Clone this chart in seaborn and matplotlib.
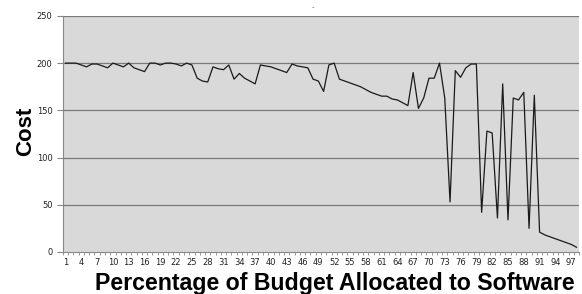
import matplotlib
matplotlib.use('Agg')
import matplotlib.pyplot as plt
import seaborn as sns
import pandas as pd

# Datos
porcentaje = list(range(1, 99))
costo = [200, 200, 200, 198, 196, 199, 199, 197, 195, 200,
         198, 196, 200, 195, 193, 191, 200, 200, 198, 200,
         200, 199, 197, 200, 198, 184, 181, 180, 196, 194,
         193, 198, 183, 189, 184, 181, 178, 198, 197, 196,
         194, 192, 190, 199, 197, 196, 195, 183, 181, 170,
         198, 200, 183, 181, 179, 177, 175, 172, 169, 167,
         165, 165, 162, 161, 158, 155, 190, 152, 163, 184,
         184, 200, 163, 53, 192, 185, 195, 199, 199, 42,
         128, 126, 36, 178, 34, 163, 161, 169, 25, 166,
         21, 18, 16, 14, 12, 10, 8, 5]
ticks_x = list(range(1, 99, 3))
ticks_y = [0, 50, 100, 150, 200, 250]

df = pd.DataFrame({'Porcentaje': porcentaje, 'Costo': costo})

fig = plt.figure(figsize=(5.82, 2.94), dpi=100)
ax = fig.add_axes([0.108, 0.143, 0.887, 0.803])
ax.set_facecolor('#d9d9d9')

# Lineas de cuadricula
for v in ticks_y[1:]:
    ax.axhline(v, color='#7a7a7a', lw=0.9, zorder=1)

sns.lineplot(data=df, x='Porcentaje', y='Costo', color='#1a1a1a', lw=0.9, ax=ax, zorder=3)

ax.set_xlim(0.5, 98.5)
ax.set_ylim(0, 250)
ax.set_xticks(ticks_x)
ax.set_xticks([p + 0.5 for p in [0] + porcentaje], minor=True)
ax.set_yticks(ticks_y)
ax.tick_params(axis='x', which='major', length=0, labelsize=6, pad=4, colors='#222222')
ax.tick_params(axis='x', which='minor', length=2.5, width=0.6, color='#888888')
ax.tick_params(axis='y', length=4, width=0.8, color='#888888', labelsize=6, labelcolor='#222222')

for lado in ['top', 'right']:
    ax.spines[lado].set_visible(False)
ax.spines['left'].set_color('#888888')
ax.spines['bottom'].set_color('#888888')

ax.set_xlabel('Percentage of Budget Allocated to Software', fontsize=16.7, fontweight='bold',
              family='Liberation Sans')
ax.xaxis.set_label_coords(0.527, -0.087)
ax.set_ylabel('Cost', fontsize=16, fontweight='bold', family='Liberation Sans')
ax.yaxis.set_label_coords(-0.052, 0.51)

fig.text(0.538, 0.975, '-', fontsize=5, color='#555555', ha='center', va='center')

fig.savefig('out.png', dpi=100)
